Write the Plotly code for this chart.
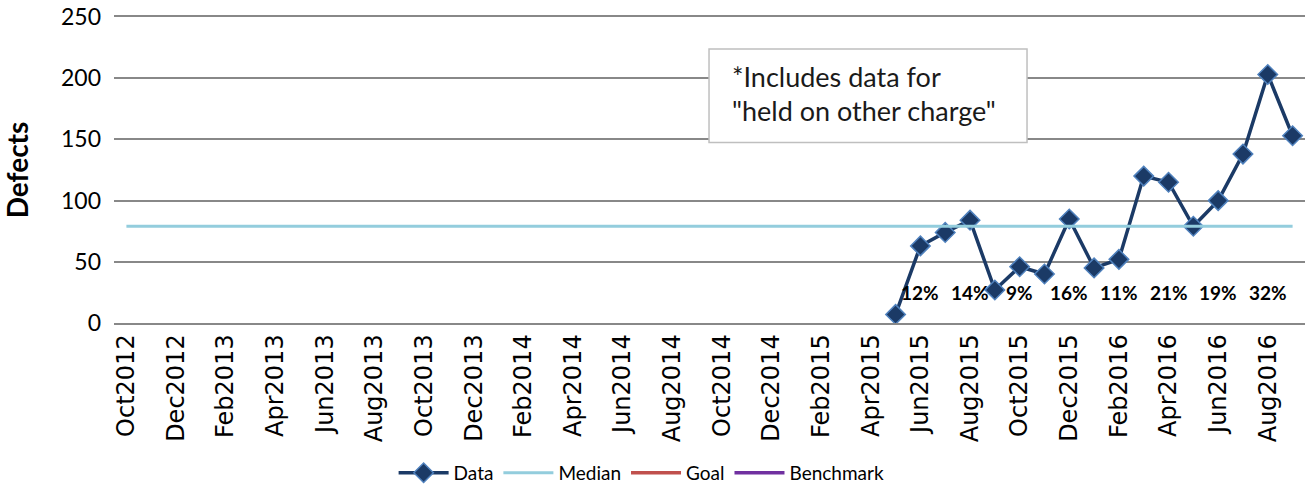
import plotly.graph_objects as go

months = ["Oct2012","Nov2012","Dec2012","Jan2013","Feb2013","Mar2013","Apr2013","May2013",
          "Jun2013","Jul2013","Aug2013","Sep2013","Oct2013","Nov2013","Dec2013","Jan2014",
          "Feb2014","Mar2014","Apr2014","May2014","Jun2014","Jul2014","Aug2014","Sep2014",
          "Oct2014","Nov2014","Dec2014","Jan2015","Feb2015","Mar2015","Apr2015","May2015",
          "Jun2015","Jul2015","Aug2015","Sep2015","Oct2015","Nov2015","Dec2015","Jan2016",
          "Feb2016","Mar2016","Apr2016","May2016","Jun2016","Jul2016","Aug2016","Sep2016"]

data_months = ["May2015","Jun2015","Jul2015","Aug2015","Sep2015","Oct2015","Nov2015","Dec2015",
               "Jan2016","Feb2016","Mar2016","Apr2016","May2016","Jun2016","Jul2016","Aug2016","Sep2016"]
data_values = [7, 63, 74, 84, 27, 46, 40, 85, 45, 52, 120, 115, 79, 100, 138, 203, 153]

median_value = 79

pct_months = ["Jun2015","Aug2015","Oct2015","Dec2015","Feb2016","Apr2016","Jun2016","Aug2016"]
pct_labels = ["12%","14%","9%","16%","11%","21%","19%","32%"]
pct_y = 25

tick_months = months[::2]
y_ticks = [0, 50, 100, 150, 200, 250]

FONT = "Lato, Open Sans, sans-serif"
GRID = "#888888"

fig = go.Figure()
fig.add_trace(go.Scatter(
    x=data_months, y=data_values, name="Data", mode="lines+markers",
    line=dict(color="#1B3A66", width=3.5),
    marker=dict(symbol="diamond", size=15, color="#1B3A66",
                line=dict(color="#4F81BD", width=1.5)),
))
fig.add_trace(go.Scatter(
    x=months, y=[median_value] * len(months), name="Median", mode="lines",
    line=dict(color="#93CDDD", width=3),
))
fig.add_trace(go.Scatter(x=[months[0]], y=[None], name="Goal", mode="lines",
                         line=dict(color="#C0504D", width=3.5)))
fig.add_trace(go.Scatter(x=[months[0]], y=[None], name="Benchmark", mode="lines",
                         line=dict(color="#7030A0", width=3.5)))

for m, t in zip(pct_months, pct_labels):
    fig.add_annotation(x=m, y=pct_y, text="<b>%s</b>" % t, showarrow=False,
                       font=dict(family=FONT, size=19, color="black"))

fig.add_shape(type="rect", xref="paper", yref="paper", x0=0.4996, x1=0.7666, y0=0.5896, y1=0.8958,
              line=dict(color="#BFBFBF", width=1.5), fillcolor="white", layer="above")
fig.add_annotation(xref="paper", yref="paper", x=0.517, y=0.805, xanchor="left", yanchor="middle",
                   text="*Includes data for", showarrow=False,
                   font=dict(family=FONT, size=27, color="#1a1a1a"))
fig.add_annotation(xref="paper", yref="paper", x=0.517, y=0.693, xanchor="left", yanchor="middle",
                   text="\"held on other charge\"", showarrow=False,
                   font=dict(family=FONT, size=27, color="#1a1a1a"))

fig.update_layout(
    width=1308, height=493,
    margin=dict(l=114, r=3, t=17, b=169),
    plot_bgcolor="white", paper_bgcolor="white",
    font=dict(family=FONT, size=18, color="black"),
    showlegend=True,
    legend=dict(orientation="h", x=0.443, xanchor="center", y=-0.485, yanchor="middle",
                font=dict(size=19, family=FONT), itemwidth=50),
    xaxis=dict(type="category", categoryorder="array", categoryarray=months,
               range=[-0.5, len(months) - 0.5], automargin=False,
               tickmode="array", tickvals=tick_months, ticktext=tick_months,
               tickangle=-90, showgrid=False, ticks="",
               tickfont=dict(family="DejaVu Sans, sans-serif", size=24, color="black"),
               showline=True, linecolor=GRID, linewidth=1.5, mirror=True, zeroline=False),
    yaxis=dict(range=[0, 250], tickvals=y_ticks, showgrid=True, gridcolor=GRID, gridwidth=1.5,
               zeroline=False, showline=False, ticks="", automargin=False,
               ticklabelstandoff=12,
               tickfont=dict(size=23, family=FONT),
               title=dict(text="<b>Defects</b>", font=dict(size=28, family=FONT), standoff=26)),
)

fig.write_html("out.html", config={"displayModeBar": False},
               post_script="document.body.style.margin='0px';")
